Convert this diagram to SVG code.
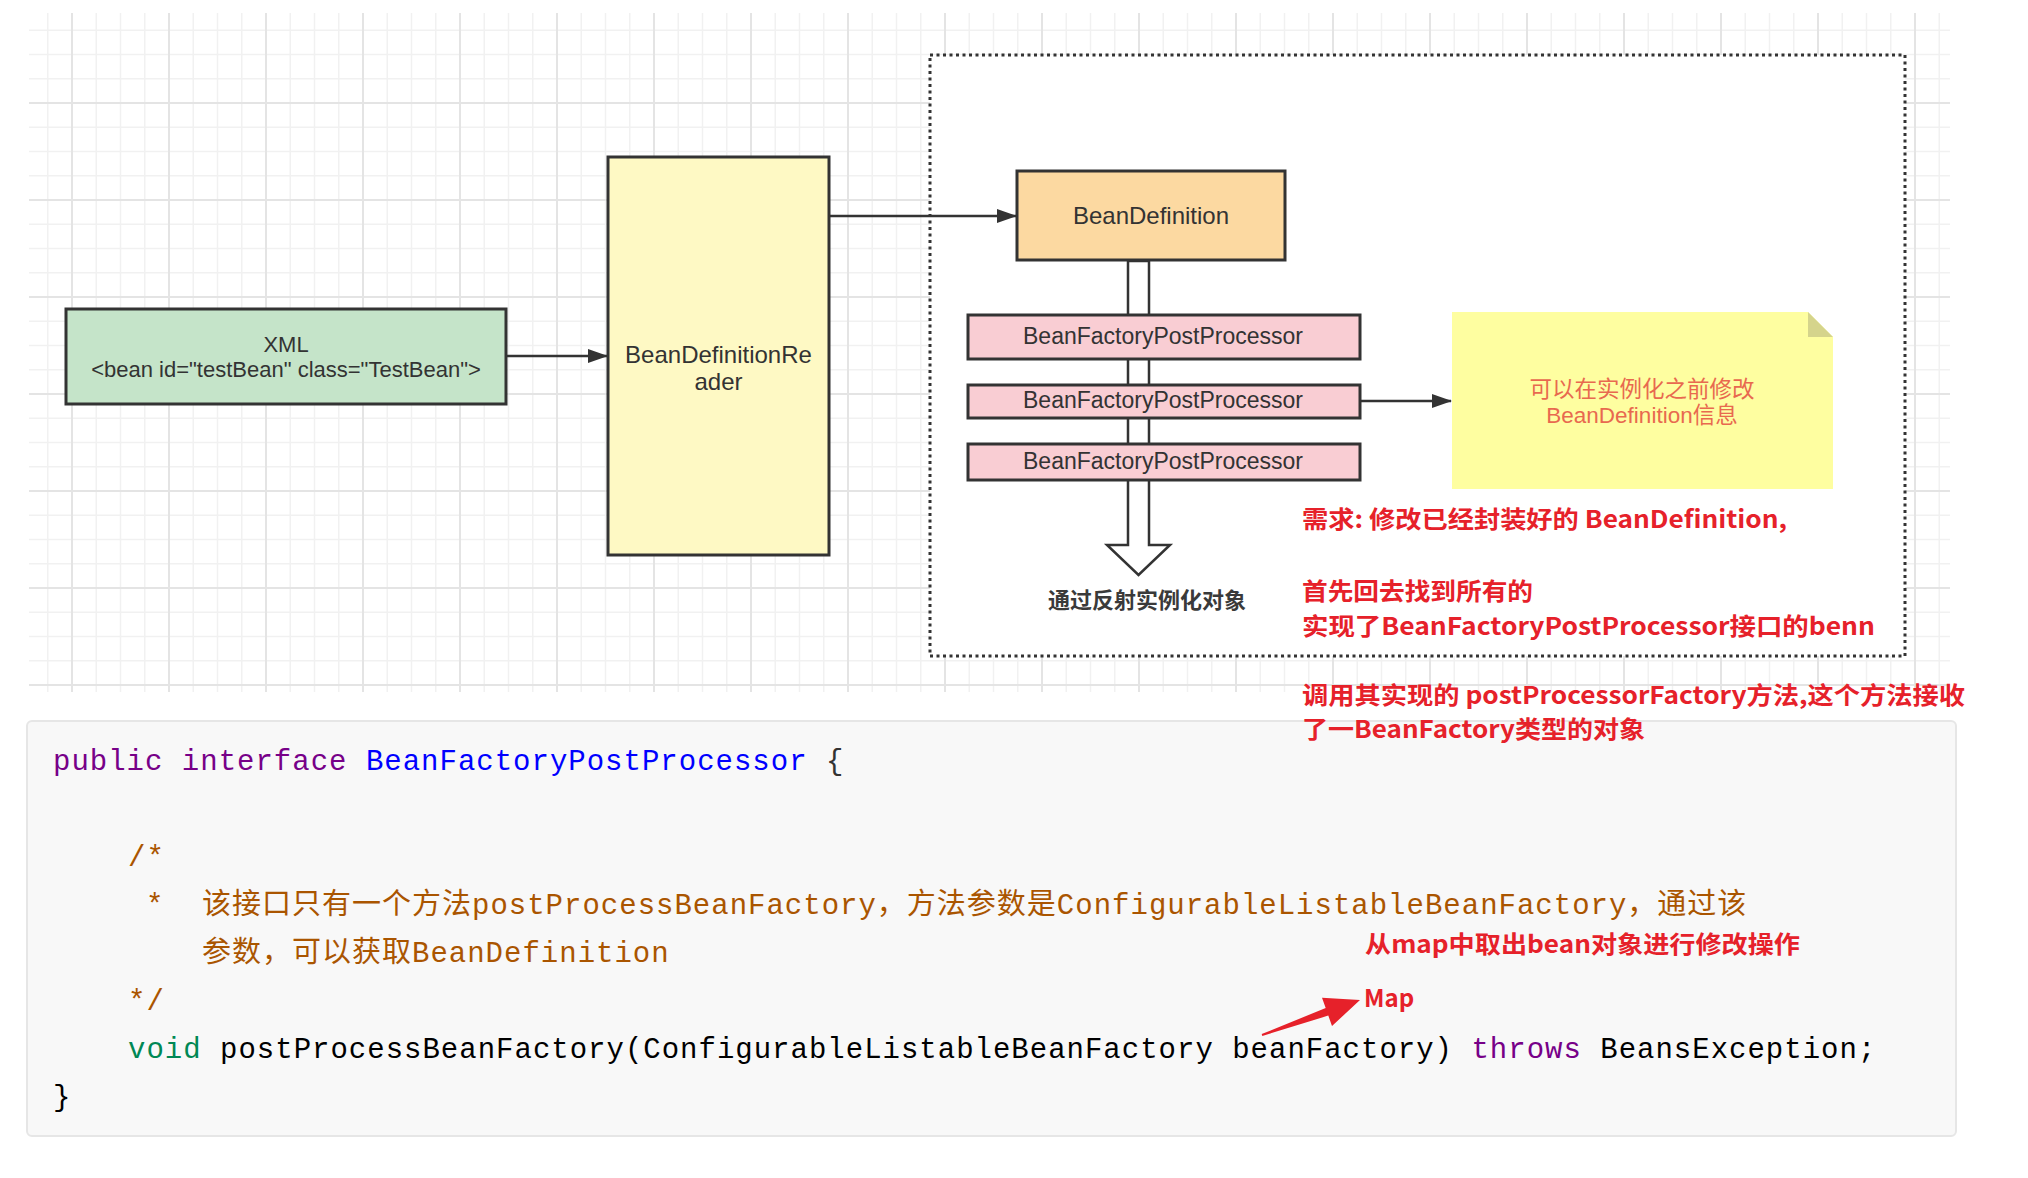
<svg xmlns="http://www.w3.org/2000/svg" width="2028" height="1178" viewBox="0 0 2028 1178">
<defs>
<style>
.box{stroke:#333;stroke-width:3}
.lbl{font-family:"Liberation Sans","Noto Sans CJK SC",sans-serif;fill:#333}
.conn{stroke:#333;stroke-width:2.5;fill:none}
.red{font-family:"Noto Sans CJK SC","Liberation Sans",sans-serif;font-weight:bold;font-size:24px;fill:#e6212a}
.code{font-family:"Liberation Mono","Noto Sans CJK SC",monospace;font-size:29px;letter-spacing:1px;fill:#000}
.kw{fill:#770088}
.def{fill:#0000ff}
.cm{fill:#aa5500}
.ty{fill:#008855}
</style>
<pattern id="grid" x="71" y="5" width="97" height="97" patternUnits="userSpaceOnUse">
<path d="M25.25 0V97M49.5 0V97M73.75 0V97M0 25.25H97M0 49.5H97M0 73.75H97" stroke="#f1f1f1" stroke-width="1.5" fill="none"/>
<path d="M1 0V97M0 1H97" stroke="#e4e4e4" stroke-width="2" fill="none"/>
</pattern>
<marker id="ah" markerUnits="userSpaceOnUse" markerWidth="20" markerHeight="14" refX="19" refY="7" orient="auto">
<path d="M0,0 L20,7 L0,14 z" fill="#333"/>
</marker>
</defs>
<rect x="0" y="0" width="2028" height="1178" fill="#ffffff"/>
<rect id="grid-bg" x="29" y="13" width="1921" height="679" fill="url(#grid)"/>

<g id="container">
<rect x="930" y="55" width="975" height="601" fill="#ffffff" stroke="#333" stroke-width="3" stroke-dasharray="3 3.5"/>
</g>

<g id="connectors">
<path class="conn" d="M506,356 L607,356" marker-end="url(#ah)"/>
<path class="conn" d="M829,216 L1016,216" marker-end="url(#ah)"/>
<path class="conn" d="M1360,401 L1451,401" marker-end="url(#ah)"/>
<polygon points="1128,261 1128,545 1107,545 1138.5,575 1170,545 1149,545 1149,261" fill="#ffffff" stroke="#333" stroke-width="2.5" stroke-linejoin="miter"/>
</g>

<g id="node-xml">
<rect class="box" x="66" y="309" width="440" height="95" fill="#c5e4c9"/>
<text class="lbl" x="286" y="352" font-size="22" text-anchor="middle">XML</text>
<text class="lbl" x="286" y="377" font-size="22" text-anchor="middle">&lt;bean id="testBean" class="TestBean"&gt;</text>
</g>

<g id="node-reader">
<rect class="box" x="608" y="157" width="221" height="398" fill="#fef9c4"/>
<text class="lbl" x="718.5" y="363" font-size="24" text-anchor="middle">BeanDefinitionRe</text>
<text class="lbl" x="718.5" y="390" font-size="24" text-anchor="middle">ader</text>
</g>

<g id="node-beandefinition">
<rect class="box" x="1017" y="171" width="268" height="89" fill="#fcd9a1"/>
<text class="lbl" x="1151" y="224" font-size="24" text-anchor="middle">BeanDefinition</text>
</g>

<g id="node-bfpp1">
<rect class="box" x="968" y="315" width="392" height="44" fill="#f9cdd3"/>
<text class="lbl" x="1163" y="344" font-size="23" text-anchor="middle">BeanFactoryPostProcessor</text>
</g>
<g id="node-bfpp2">
<rect class="box" x="968" y="385" width="392" height="33" fill="#f9cdd3"/>
<text class="lbl" x="1163" y="408" font-size="23" text-anchor="middle">BeanFactoryPostProcessor</text>
</g>
<g id="node-bfpp3">
<rect class="box" x="968" y="444" width="392" height="36" fill="#f9cdd3"/>
<text class="lbl" x="1163" y="469" font-size="23" text-anchor="middle">BeanFactoryPostProcessor</text>
</g>

<g id="node-reflect-label">
<text x="1048" y="608" font-family="'Noto Sans CJK SC',sans-serif" font-size="22" font-weight="bold" fill="#3a3a3a">通过反射实例化对象</text>
</g>

<g id="node-note">
<path d="M1452,312 L1808,312 L1833,337 L1833,489 L1452,489 z" fill="#fefea0"/>
<path d="M1808,312 L1808,337 L1833,337 z" fill="#d5d48c"/>
<text class="lbl" x="1642" y="397" font-size="22.5" text-anchor="middle" style="fill:#e8694f">可以在实例化之前修改</text>
<text class="lbl" x="1642" y="423" font-size="22.5" text-anchor="middle" style="fill:#e8694f">BeanDefinition信息</text>
</g>

<g id="code-block">
<rect x="27" y="721" width="1929" height="415" rx="5" fill="#f8f8f8" stroke="#e6e6e6" stroke-width="2"/>
<text class="code" x="53" y="770" xml:space="preserve"><tspan class="kw">public</tspan> <tspan class="kw">interface</tspan> <tspan class="def">BeanFactoryPostProcessor</tspan> <tspan fill="#333">{</tspan></text>
<text class="code cm" x="128" y="866">/*</text>
<text class="code cm" x="146" y="914">*</text>
<text class="code cm" x="202" y="914">该接口只有一个方法postProcessBeanFactory，方法参数是ConfigurableListableBeanFactory，通过该</text>
<text class="code cm" x="202" y="962">参数，可以获取BeanDefinition</text>
<text class="code cm" x="128" y="1010">*/</text>
<text class="code" x="128" y="1058" xml:space="preserve"><tspan class="ty">void</tspan> postProcessBeanFactory(ConfigurableListableBeanFactory beanFactory) <tspan class="kw">throws</tspan> BeansException;</text>
<text class="code" x="53" y="1106">}</text>
</g>

<g id="annotations">
<text class="red" x="1302" y="528" textLength="485" lengthAdjust="spacingAndGlyphs">需求: 修改已经封装好的 BeanDefinition,</text>
<text class="red" x="1302" y="600" textLength="231" lengthAdjust="spacingAndGlyphs">首先回去找到所有的</text>
<text class="red" x="1302" y="635" textLength="573" lengthAdjust="spacingAndGlyphs">实现了BeanFactoryPostProcessor接口的benn</text>
<text class="red" x="1302" y="704" textLength="663" lengthAdjust="spacingAndGlyphs">调用其实现的 postProcessorFactory方法,这个方法接收</text>
<text class="red" x="1302" y="738" textLength="343" lengthAdjust="spacingAndGlyphs">了一BeanFactory类型的对象</text>
</g>

<g id="code-annotations">
<text class="red" x="1365" y="953" textLength="435" lengthAdjust="spacingAndGlyphs">从map中取出bean对象进行修改操作</text>
<text class="red" x="1364" y="1007" font-size="27">Map</text>
<polygon points="1261.7,1034.1 1325.7,1008 1322,997.7 1360,1000 1332,1026 1328.3,1015.6 1262.3,1035.9" fill="#e6212a"/>
</g>
</svg>
